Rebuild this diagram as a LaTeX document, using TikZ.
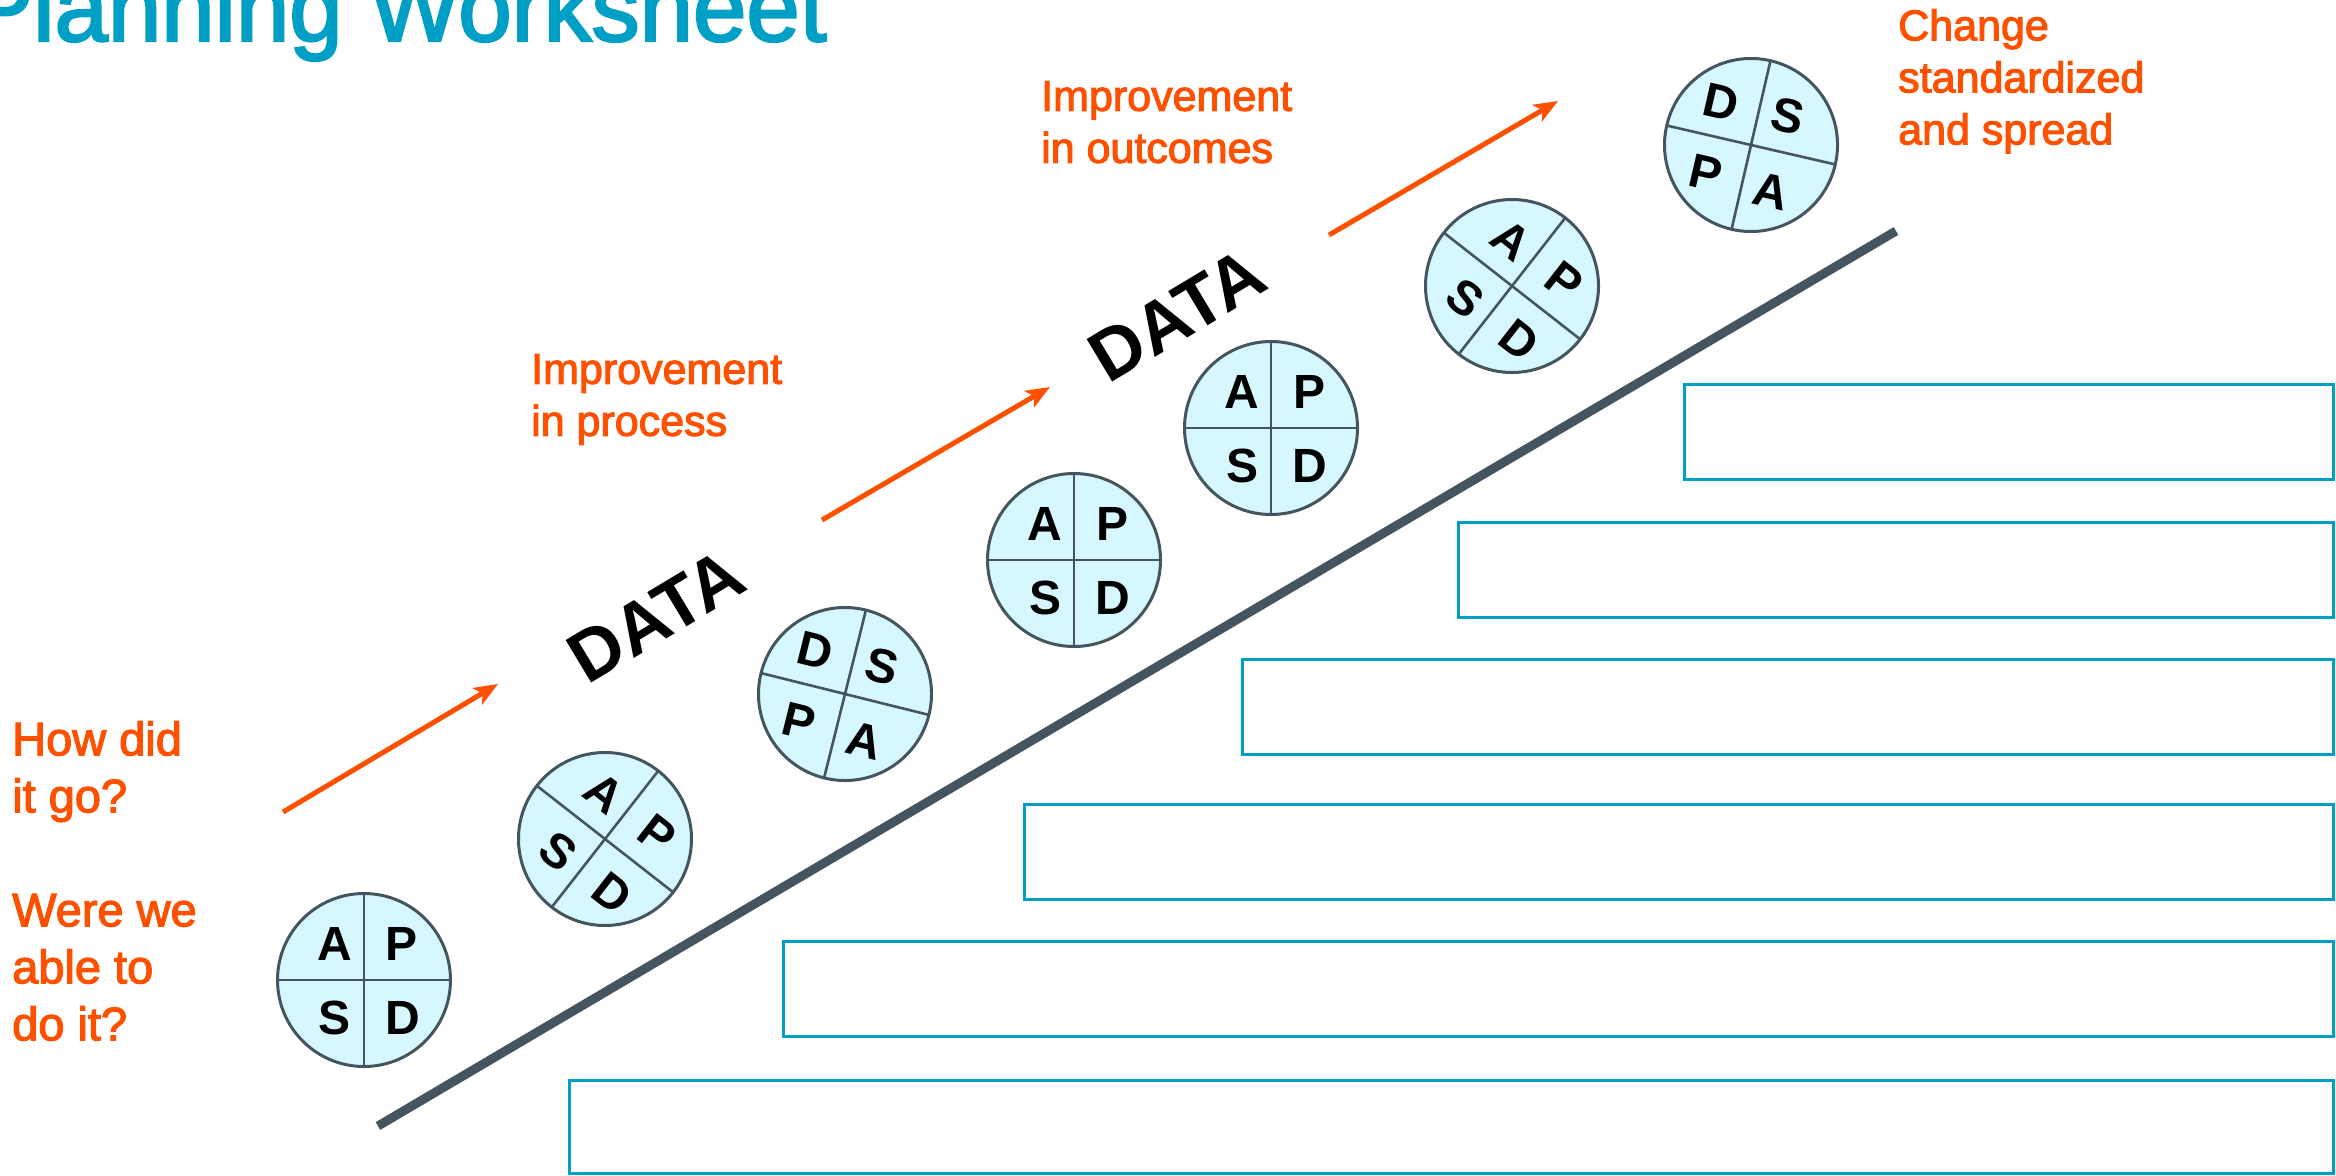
\documentclass[tikz,border=0pt]{standalone}
\usepackage{fontspec}
\setmainfont{Liberation Sans}
\newfontfamily\lblfont[FakeBold=2.5]{Liberation Sans}
\usetikzlibrary{arrows.meta}
\definecolor{orng}{RGB}{255,80,0}
\definecolor{titleblue}{RGB}{0,160,198}
\definecolor{boxblue}{RGB}{0,160,198}
\definecolor{slate}{RGB}{69,85,95}
\definecolor{cfill}{RGB}{214,247,254}

\newcommand\pdsaAPSD[3]{%
\begin{scope}[shift={#2}, rotate=#3, transform shape]
\node[pdsa] (#1) at (0,0) {};
\draw[divline] (#1.north) -- (#1.south);
\draw[divline] (#1.west) -- (#1.east);
\node[letter] (#1-A) at (-29,36) {A};
\node[letter] (#1-P) at (38,36) {P};
\node[letter] (#1-S) at (-29,-38) {S};
\node[letter] (#1-D) at (39,-38) {D};
\end{scope}}

\newcommand\pdsaDSPA[3]{%
\begin{scope}[shift={#2}, rotate=#3, transform shape]
\node[pdsa] (#1) at (0,0) {};
\draw[divline] (#1.north) -- (#1.south);
\draw[divline] (#1.west) -- (#1.east);
\node[letter] (#1-D) at (-39,35) {D};
\node[letter] (#1-S) at (29,36) {S};
\node[letter] (#1-P) at (-38,-38) {P};
\node[letter] (#1-A) at (30,-41) {A};
\end{scope}}

\begin{document}
\begin{tikzpicture}[x=1pt,y=1pt,
  pdsa/.style={circle,draw=slate,line width=3pt,fill=cfill,minimum size=173pt,inner sep=0pt,outer sep=0pt},
  divline/.style={draw=slate,line width=2.6pt},
  letter/.style={font=\fontsize{48}{48}\selectfont\bfseries,inner sep=0pt},
  datatext/.style={font=\fontsize{72}{72}\selectfont\bfseries,inner sep=0pt,rotate=31},
  lbl/.style={text=orng,font=\lblfont\fontsize{43}{52}\selectfont,align=left,inner sep=0pt,anchor=north west},
  lblbig/.style={text=orng,font=\lblfont\fontsize{47}{57}\selectfont,align=left,inner sep=0pt,anchor=north west},
  wbox/.style={draw=boxblue,line width=3pt,inner sep=0pt,outer sep=0pt,anchor=north west},
  ramp/.style={draw=slate,line width=9pt},
  uparrow/.style={draw=orng,line width=5pt,-{Stealth[length=24pt,width=19pt,inset=6pt]}}
]
\useasboundingbox (0,0) rectangle (2336,-1175);
\fill[white] (0,0) rectangle (2336,-1175);

% title
\node[anchor=base west,inner sep=0pt,text=titleblue,font=\lblfont\fontsize{96}{96}\selectfont] (title) at (-31,-41) {Planning Worksheet};

% boxes
\node[wbox,minimum width=649pt,minimum height=95pt] (b1) at (1684,-384) {};
\node[wbox,minimum width=875pt,minimum height=95pt] (b2) at (1458,-522) {};
\node[wbox,minimum width=1091pt,minimum height=95pt] (b3) at (1242,-659) {};
\node[wbox,minimum width=1309pt,minimum height=95pt] (b4) at (1024,-804) {};
\node[wbox,minimum width=1550pt,minimum height=95pt] (b5) at (783,-941) {};
\node[wbox,minimum width=1764pt,minimum height=93pt] (b6) at (569,-1080) {};

% ramp
\coordinate (rampL) at (378,-1126);
\coordinate (rampR) at (1896,-231);
\draw[ramp] (rampL) -- (rampR);

% circles
\pdsaAPSD{c1}{(364,-980)}{0}
\pdsaAPSD{c2}{(605,-839)}{-38}
\pdsaDSPA{c3}{(845,-694)}{-14}
\pdsaAPSD{c4}{(1074,-560)}{0}
\pdsaAPSD{c5}{(1271,-428)}{0}
\pdsaAPSD{c6}{(1512,-286)}{-38}
\pdsaDSPA{c7}{(1751,-145)}{-13}

% DATA
\node[datatext] (data1) at (656,-616) {DATA};
\node[datatext] (data2) at (1177,-315) {DATA};

% arrows
\coordinate (a1s) at (283,-812); \coordinate (a1e) at (498,-684);
\coordinate (a2s) at (822,-520); \coordinate (a2e) at (1050,-387);
\coordinate (a3s) at (1329,-235); \coordinate (a3e) at (1558,-101);
\draw[uparrow] (a1s) -- (a1e);
\draw[uparrow] (a2s) -- (a2e);
\draw[uparrow] (a3s) -- (a3e);

% labels
\node[lblbig] (q1) at (12,-721) {How did\\it go?\\[57pt]Were we\\able to\\do it?};
\node[lbl] (l1) at (531,-354) {Improvement\\in process};
\node[lbl] (l2) at (1041,-81) {Improvement\\in outcomes};
\node[lbl] (l3) at (1898,-9) {Change\\standardized\\and spread};
\end{tikzpicture}
\end{document}
